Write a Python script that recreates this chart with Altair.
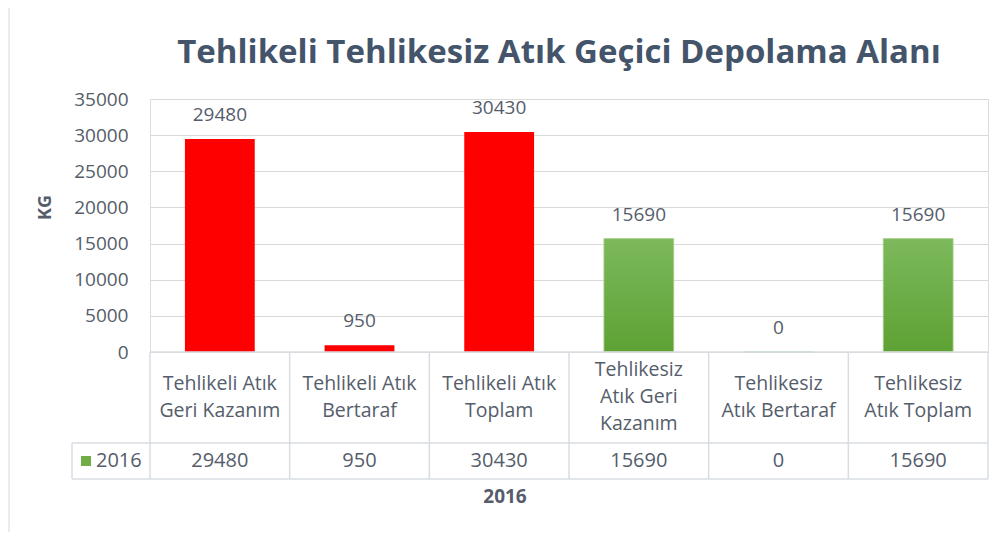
import altair as alt
import pandas as pd

categories = [
    "Tehlikeli Atık Geri Kazanım",
    "Tehlikeli Atık Bertaraf",
    "Tehlikeli Atık Toplam",
    "Tehlikesiz Atık Geri Kazanım",
    "Tehlikesiz Atık Bertaraf",
    "Tehlikesiz Atık Toplam",
]
header_labels = [
    "Tehlikeli Atık\nGeri Kazanım",
    "Tehlikeli Atık\nBertaraf",
    "Tehlikeli Atık\nToplam",
    "Tehlikesiz\nAtık Geri\nKazanım",
    "Tehlikesiz\nAtık Bertaraf",
    "Tehlikesiz\nAtık Toplam",
]
values_2016 = [29480, 950, 30430, 15690, 0, 15690]
groups = ["Tehlikeli", "Tehlikeli", "Tehlikeli", "Tehlikesiz", "Tehlikesiz", "Tehlikesiz"]
y_ticks = [0, 5000, 10000, 15000, 20000, 25000, 30000, 35000]
series_name = "2016"
title_text = "Tehlikeli Tehlikesiz Atık Geçici Depolama Alanı"

df = pd.DataFrame({
    "cat": categories,
    "header": header_labels,
    "value": values_2016,
    "group": groups,
})
df["lines"] = df["header"].str.count("\n") + 1
df["last"] = df["cat"] == categories[-1]

FONT = "Open Sans"
TXT = "#555d6b"
LINE = "#d9dde3"
W, H = 838, 253
HALF_STEP = W / len(categories) / 2

xenc = alt.X("cat:N", sort=categories,
             scale=alt.Scale(paddingInner=0.5, paddingOuter=0.25),
             axis=None)
yenc = alt.Y("value:Q",
             scale=alt.Scale(domain=[0, 35000], nice=False),
             axis=alt.Axis(values=y_ticks, title="KG", grid=True, gridColor="#d9d9d9",
                           domain=False, ticks=False, labelPadding=22, format="d",
                           labelOverlap=False,
                           labelFont=FONT, labelFontSize=19, labelColor=TXT,
                           titleFont=FONT, titleFontSize=18, titleFontWeight="bold",
                           titleColor=TXT, titleX=-105, titleY=108, titleAngle=-90,
                           titleAlign="center", titleBaseline="middle"))

base = alt.Chart(df)

red_bars = base.mark_bar(color="#ff0000").encode(x=xenc, y=yenc).transform_filter(
    alt.datum.group == "Tehlikeli")
green_bars = base.mark_bar(
    color=alt.Gradient(gradient="linear", x1=0, x2=0, y1=0, y2=1,
                       stops=[alt.GradientStop(color="#7cb95c", offset=0),
                              alt.GradientStop(color="#5ea133", offset=1)]),
    stroke="#a9d18e", strokeWidth=0.8
).encode(x=xenc, y=yenc).transform_filter(alt.datum.group == "Tehlikesiz")

bar_labels = base.mark_text(font=FONT, fontSize=19, color=TXT, baseline="bottom", dy=-14).encode(
    x=xenc, y=yenc, text=alt.Text("value:Q", format="d"))

# data table beneath the plot
header2 = base.mark_text(font=FONT, fontSize=19.5, color=TXT, lineBreak="\n",
                         lineHeight=27, baseline="middle", dy=-13.5).encode(
    x=xenc, y=alt.value(298), text="header:N").transform_filter(alt.datum.lines == 2)
header3 = base.mark_text(font=FONT, fontSize=19.5, color=TXT, lineBreak="\n",
                         lineHeight=27, baseline="middle", dy=-27).encode(
    x=xenc, y=alt.value(298), text="header:N").transform_filter(alt.datum.lines == 3)
value_text = base.mark_text(font=FONT, fontSize=20, color=TXT, baseline="middle").encode(
    x=xenc, y=alt.value(362), text=alt.Text("value:Q", format="d"))

vlines = base.mark_rule(color=LINE, strokeWidth=1.5, xOffset=-HALF_STEP).encode(
    x=xenc, y=alt.value(253), y2=alt.value(380))
right_line = base.mark_rule(color=LINE, strokeWidth=1.5, xOffset=HALF_STEP).encode(
    x=xenc, y=alt.value(253), y2=alt.value(380)
).transform_filter(alt.datum.last)

one = pd.DataFrame({"a": [0]})
left_cell = alt.Chart(one).mark_rule(color=LINE, strokeWidth=1.5).encode(
    x=alt.value(-78), y=alt.value(344), y2=alt.value(380))
top_line = alt.Chart(one).mark_rule(color=LINE, strokeWidth=1.5).encode(
    x=alt.value(0), x2=alt.value(W), y=alt.value(253))
mid_line = alt.Chart(one).mark_rule(color=LINE, strokeWidth=1.5).encode(
    x=alt.value(-78), x2=alt.value(W), y=alt.value(344))
bot_line = alt.Chart(one).mark_rule(color=LINE, strokeWidth=1.5).encode(
    x=alt.value(-78), x2=alt.value(W), y=alt.value(380))
# faint frame edge of the chart object on the left
frame_left = alt.Chart(one).mark_rule(color="#e3e6ea", strokeWidth=1.5).encode(
    x=alt.value(-141), y=alt.value(-91), y2=alt.value(442))

legend_df = pd.DataFrame({"s": [series_name]})
legend_sq = alt.Chart(legend_df).mark_point(shape="square", filled=True, size=100,
                                            color="#70ad47", opacity=1).encode(
    x=alt.value(-64), y=alt.value(362))
legend_txt = alt.Chart(legend_df).mark_text(font=FONT, fontSize=20, color=TXT, align="left",
                                            baseline="middle").encode(
    x=alt.value(-54), y=alt.value(362), text="s:N")
xtitle = alt.Chart(legend_df).mark_text(font=FONT, fontSize=19, fontWeight="bold", color=TXT,
                                        baseline="middle").encode(
    x=alt.value(355), y=alt.value(398), text="s:N")
title = alt.Chart(pd.DataFrame({"t": [title_text]})).mark_text(
    font=FONT, fontSize=33, fontWeight="bold", color="#44546a", baseline="middle").encode(
    x=alt.value(409), y=alt.value(-46), text="t:N")

chart = alt.layer(
    red_bars, green_bars, bar_labels, header2, header3, value_text,
    vlines, right_line, left_cell, top_line, mid_line, bot_line, frame_left,
    legend_sq, legend_txt, xtitle, title,
).properties(
    width=W, height=H,
    autosize=alt.AutoSizeParams(type="none"),
    padding={"left": 142, "top": 91, "right": 7, "bottom": 180},
).configure_view(strokeWidth=0, stroke="transparent").configure(background="white")

chart.save("out.html", embed_options={"renderer": "svg", "actions": False})
